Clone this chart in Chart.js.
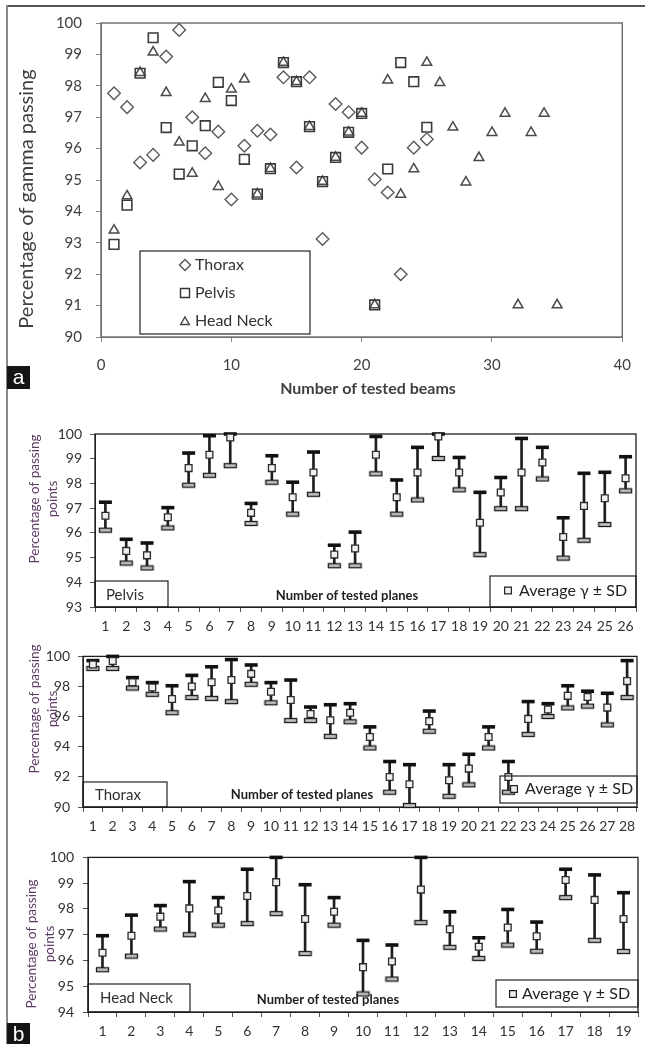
<!DOCTYPE html>
<html><head><meta charset="utf-8">
<script src="https://cdn.jsdelivr.net/npm/chart.js@4.4.1/dist/chart.umd.min.js"></script>
<style>
html,body{margin:0;padding:0;background:#fff;}
#page{position:relative;width:645px;height:1044px;overflow:hidden;background:#fff;}
.wrap{position:absolute;left:0;width:645px;}
.frameTop{position:absolute;left:7px;top:5px;width:638px;height:2px;background:#555;}
.frameLeft{position:absolute;left:6px;top:5px;width:2px;height:1039px;background:#888;}
.tag{position:absolute;background:#151515;color:#fff;font:21px 'Liberation Sans',Arial,sans-serif;line-height:21px;text-align:center;}
</style></head>
<body><div id="page">
<div class="frameTop"></div><div class="frameLeft"></div>
<div class="wrap" style="top:0;height:400px"><canvas id="cA"></canvas></div>
<div class="wrap" style="top:400px;height:240px"><canvas id="cP"></canvas></div>
<div class="wrap" style="top:640px;height:200px"><canvas id="cT"></canvas></div>
<div class="wrap" style="top:840px;height:204px"><canvas id="cH"></canvas></div>
<div class="tag" style="left:7px;top:366px;width:23px;height:23px;">a</div>
<div class="tag" style="left:7px;top:1023px;width:23px;height:21px;">b</div>
</div>
<script>
// ---------- Panel a: gamma passing per tested beam ----------
const thoraxGamma = [97.76, 97.32, 95.56, 95.80, 98.93, 99.78, 97.00, 95.85, 96.54, 94.38, 96.09, 96.57, 96.45, 98.27, 95.40, 98.27, 93.12, 97.42, 97.16, 96.03, 95.02, 94.60, 92.00, 96.03, 96.30];
const pelvisGamma = [92.95, 94.20, 98.40, 99.53, 96.67, 95.19, 96.09, 96.73, 98.11, 97.53, 95.66, 94.55, 95.36, 98.74, 98.13, 96.70, 94.95, 95.72, 96.52, 97.12, 91.02, 95.35, 98.74, 98.13, 96.68];
const headNeckGamma = [93.40, 94.49, 98.42, 99.07, 97.78, 96.20, 95.21, 97.59, 94.79, 97.89, 98.21, 94.55, 95.36, 98.74, 98.13, 96.70, 94.95, 95.72, 96.52, 97.12, 91.02, 98.18, 94.54, 95.35, 98.74, 98.10, 96.68, 94.93, 95.71, 96.51, 97.12, 91.02, 96.51, 97.12, 91.02];
const beamTicks = [0, 10, 20, 30, 40];
const gammaTicks = [90, 91, 92, 93, 94, 95, 96, 97, 98, 99, 100];

// ---------- Panel b: average gamma ± SD per tested plane ----------
const pelvisPlanes = ['1','2','3','4','5','6','7','8','9','10','11','12','13','14','15','16','17','18','19','20','21','22','23','24','25','26'];
const pelvisMean  = [96.69, 95.27, 95.09, 96.63, 98.62, 99.16, 99.86, 96.81, 98.62, 97.44, 98.44, 95.12, 95.37, 99.16, 97.44, 98.44, 99.90, 98.44, 96.41, 97.63, 98.44, 98.85, 95.83, 97.09, 97.40, 98.21];
const pelvisUpper = [97.24, 95.74, 95.59, 97.02, 99.23, 99.93, 100.0, 97.19, 99.12, 98.05, 99.27, 95.50, 96.03, 99.90, 98.14, 99.46, 100.0, 99.05, 97.64, 98.24, 99.82, 99.46, 96.61, 98.41, 98.45, 99.08];
const pelvisLower = [96.11, 94.78, 94.58, 96.20, 97.93, 98.33, 98.72, 96.38, 98.05, 96.76, 97.56, 94.67, 94.67, 98.39, 96.76, 97.33, 99.01, 97.74, 95.12, 96.98, 96.98, 98.18, 94.98, 95.70, 96.34, 97.70];

const thoraxPlanes = ['1','2','3','4','5','6','7','8','9','10','11','12','13','14','15','16','17','18','19','20','21','22','23','24','25','26','27','28'];
const thoraxMean  = [99.47, 99.69, 98.28, 97.94, 97.17, 98.00, 98.28, 98.43, 98.84, 97.65, 97.11, 96.18, 95.76, 96.26, 94.65, 91.99, 91.51, 95.70, 91.78, 92.55, 94.65, 91.99, 95.85, 96.48, 97.38, 97.31, 96.60, 98.36];
const thoraxUpper = [99.72, 100.0, 98.59, 98.26, 98.05, 98.74, 99.31, 99.79, 99.43, 98.26, 98.43, 96.64, 96.79, 96.86, 95.32, 93.02, 92.81, 96.37, 92.81, 93.50, 95.32, 93.02, 97.00, 96.86, 98.05, 97.69, 97.55, 99.72];
const thoraxLower = [99.20, 99.20, 97.90, 97.48, 96.26, 97.27, 97.21, 97.00, 98.15, 96.92, 95.74, 95.74, 94.69, 95.66, 93.92, 90.98, 90.10, 95.03, 90.71, 91.47, 93.92, 90.98, 94.82, 96.01, 96.58, 96.70, 95.45, 97.27];

const headNeckPlanes = ['1','2','3','4','5','6','7','8','9','10','11','12','13','14','15','16','17','18','19'];
const headNeckMean  = [96.30, 96.96, 97.70, 98.02, 97.94, 98.50, 99.04, 97.61, 97.89, 95.74, 95.96, 98.75, 97.21, 96.53, 97.28, 96.94, 99.12, 98.35, 97.61];
const headNeckUpper = [96.96, 97.76, 98.13, 99.06, 98.44, 99.54, 100.0, 98.94, 98.44, 96.78, 96.60, 100.0, 97.89, 96.88, 97.98, 97.49, 99.54, 99.32, 98.63];
const headNeckLower = [95.64, 96.17, 97.22, 97.00, 97.37, 97.43, 97.82, 96.27, 97.37, 94.70, 95.28, 97.47, 96.51, 96.08, 96.60, 96.36, 98.44, 96.78, 96.35];

Chart.defaults.font.family = 'Lato, "Open Sans", sans-serif';
Chart.defaults.animation = false;

function drawMark(ctx, m, dy) {
  ctx.save();
  ctx.lineWidth = m.lw || 1.4;
  ctx.strokeStyle = m.color || '#444';
  ctx.fillStyle = m.fill || 'rgba(0,0,0,0)';
  const x = m.x, y = m.y - dy, s = m.s;
  ctx.beginPath();
  if (m.shape === 'diamond') { ctx.moveTo(x, y - s); ctx.lineTo(x + s, y); ctx.lineTo(x, y + s); ctx.lineTo(x - s, y); ctx.closePath(); }
  else if (m.shape === 'square') { ctx.rect(x - s, y - s, 2 * s, 2 * s); }
  else if (m.shape === 'triangle') { ctx.moveTo(x, y - s); ctx.lineTo(x + s * 0.866, y + s / 2); ctx.lineTo(x - s * 0.866, y + s / 2); ctx.closePath(); }
  ctx.fill(); ctx.stroke();
  ctx.restore();
}

const decorPlugin = {
  id: 'decor',
  beforeDatasetsDraw(chart, args, o) {
    const {ctx, chartArea: a} = chart;
    ctx.save();
    ctx.strokeStyle = o.frameColor; ctx.lineWidth = o.frameWidth;
    ctx.strokeRect(a.left, a.top, a.right - a.left, a.bottom - a.top);
    ctx.restore();
  },
  afterDatasetsDraw(chart, args, o) {
    const ctx = chart.ctx, dy = o.top;
    ctx.save();
    (o.boxes || []).forEach(b => {
      ctx.strokeStyle = b.color || '#222'; ctx.lineWidth = b.w || 1.2;
      ctx.strokeRect(b.x1, b.y1 - dy, b.x2 - b.x1, b.y2 - b.y1);
    });
    (o.marks || []).forEach(m => drawMark(ctx, m, dy));
    (o.texts || []).forEach(t => {
      ctx.save();
      ctx.font = t.font; ctx.fillStyle = t.color || '#333';
      ctx.textAlign = t.align || 'center'; ctx.textBaseline = 'middle';
      ctx.translate(t.x, t.y - dy);
      if (t.rot) ctx.rotate(t.rot);
      ctx.fillText(t.t, 0, 0);
      ctx.restore();
    });
    ctx.restore();
  }
};

const toPoints = arr => arr.map((v, i) => ({x: i + 1, y: v}));

// ---------- Panel a ----------
new Chart(document.getElementById('cA'), {
  type: 'scatter',
  data: {
    datasets: [
      {label: 'Thorax', data: toPoints(thoraxGamma), pointStyle: 'rectRot', pointRadius: 6.3, borderColor: '#5a5a5a', backgroundColor: 'rgba(0,0,0,0)', borderWidth: 1.4, clip: false},
      {label: 'Pelvis', data: toPoints(pelvisGamma), pointStyle: 'rect', pointRadius: 6.8, borderColor: '#3a3a3a', backgroundColor: 'rgba(0,0,0,0)', borderWidth: 1.6, clip: false},
      {label: 'Head Neck', data: toPoints(headNeckGamma), pointStyle: 'triangle', pointRadius: 5.6, borderColor: '#4a4a4a', backgroundColor: 'rgba(0,0,0,0)', borderWidth: 1.5, clip: false}
    ]
  },
  options: {
    responsive: true, maintainAspectRatio: false,
    layout: {autoPadding: false, padding: {top: 23, right: 11, left: 0, bottom: 0}},
    plugins: {
      legend: {display: false}, tooltip: {enabled: false},
      decor: {
        top: 0, frameColor: '#606060', frameWidth: 1.3,
        boxes: [{x1: 140, y1: 251, x2: 310, y2: 334, color: '#333', w: 1.3}],
        marks: [
          {shape: 'diamond', x: 185, y: 265, s: 5.5, color: '#555'},
          {shape: 'square', x: 185, y: 293, s: 4.5, color: '#333'},
          {shape: 'triangle', x: 185, y: 322, s: 5, color: '#444'}
        ],
        texts: [
          {t: 'Thorax', x: 195, y: 265, font: '16px Lato', align: 'left', color: '#333'},
          {t: 'Pelvis', x: 195, y: 293, font: '16px Lato', align: 'left', color: '#333'},
          {t: 'Head Neck', x: 195, y: 321, font: '16px Lato', align: 'left', color: '#333'},
          {t: 'Percentage of gamma passing', x: 27, y: 199, rot: -Math.PI / 2, font: '20px Lato', color: '#404040'},
          {t: 'Number of tested beams', x: 368, y: 389, font: 'bold 16px Lato', color: '#404040'}
        ]
      }
    },
    scales: {
      x: {
        type: 'linear', min: beamTicks[0], max: beamTicks[beamTicks.length - 1],
        afterBuildTicks: s => { s.ticks = beamTicks.map(v => ({value: v})); },
        ticks: {font: {size: 15}, color: '#404040', padding: 14},
        grid: {drawOnChartArea: false, tickLength: 5, color: '#888'},
        border: {color: '#888', width: 1},
        afterFit: s => { s.height = 63; }
      },
      y: {
        min: gammaTicks[0], max: gammaTicks[gammaTicks.length - 1],
        afterBuildTicks: s => { s.ticks = gammaTicks.map(v => ({value: v})); },
        ticks: {font: {size: 15}, color: '#404040', padding: 14},
        grid: {drawOnChartArea: false, tickLength: 5, color: '#888'},
        border: {color: '#888', width: 1},
        afterFit: s => { s.width = 101; }
      }
    }
  },
  plugins: [decorPlugin]
});

// ---------- Panel b helper ----------
function lowerCapImage() {
  const c = document.createElement('canvas');
  c.width = 15; c.height = 7;
  const g = c.getContext('2d');
  g.fillStyle = '#c4c4c4'; g.fillRect(1.5, 1.5, 12, 4);
  g.strokeStyle = '#1a1a1a'; g.lineWidth = 1.3; g.strokeRect(1.5, 1.5, 12, 4);
  return c;
}
const capImg = lowerCapImage();

function errorPanel(id, labels, mean, upper, lower, yTicks, geom, deco) {
  new Chart(document.getElementById(id), {
    type: 'bar',
    data: {
      labels: labels,
      datasets: [
        {type: 'bar', data: lower.map((l, i) => [l, upper[i]]), backgroundColor: '#1e1e1e', borderWidth: 0, barThickness: 2, order: 3, clip: false},
        {type: 'line', data: lower, showLine: false, pointStyle: capImg, pointRadius: 6, order: 2, clip: false},
        {type: 'line', data: upper, showLine: false, pointStyle: 'line', pointRadius: 6.5, borderColor: '#111', borderWidth: 3.6, order: 1, clip: false},
        {type: 'line', data: mean, showLine: false, pointStyle: 'rect', pointRadius: 4.8, borderColor: '#2a2a2a', backgroundColor: '#f0f0f0', borderWidth: 1.3, order: 0, clip: false}
      ]
    },
    options: {
      responsive: true, maintainAspectRatio: false,
      layout: {autoPadding: false, padding: {top: geom.top, right: geom.right, left: 0, bottom: 0}},
      plugins: {legend: {display: false}, tooltip: {enabled: false}, decor: deco},
      scales: {
        x: {
          type: 'category', offset: true,
          ticks: {font: {size: 14}, color: '#333', padding: 6, autoSkip: false, maxRotation: 0},
          grid: {drawOnChartArea: false, offset: true, tickLength: 5, color: '#555'},
          border: {color: '#222', width: 1},
          afterFit: s => { s.height = geom.xh; }
        },
        y: {
          min: yTicks[0], max: yTicks[yTicks.length - 1],
          afterBuildTicks: s => { s.ticks = yTicks.map(v => ({value: v})); },
          ticks: {font: {size: 14}, color: '#333', padding: geom.ypad},
          grid: {drawOnChartArea: false, tickLength: 5, color: '#555'},
          border: {color: '#222', width: 1},
          afterFit: s => { s.width = geom.yw; }
        }
      }
    },
    plugins: [decorPlugin]
  });
}

const yLabelColor = '#5e3b66';
function panelDeco(top, name, nameBox, nameX, nameY, avgBox, avgMarkX, avgTextX, avgY, planesX, planesY, lblX1, lblX2, lblY) {
  return {
    top: top, frameColor: '#1e1e1e', frameWidth: 1.3,
    boxes: [nameBox, avgBox],
    marks: [{shape: 'square', x: avgMarkX, y: avgY, s: 3.4, color: '#222', fill: '#eee', lw: 1.2}],
    texts: [
      {t: name, x: nameX, y: nameY, font: '15px Lato', align: 'left', color: '#2e2e2e'},
      {t: 'Average γ ± SD', x: avgTextX, y: avgY, font: '16px Lato', align: 'left', color: '#222'},
      {t: 'Number of tested planes', x: planesX, y: planesY, font: 'bold 13px Lato', color: '#1e1e1e'},
      {t: 'Percentage of passing', x: lblX1, y: lblY, rot: -Math.PI / 2, font: '13.5px Lato', color: yLabelColor},
      {t: 'points', x: lblX2, y: lblY, rot: -Math.PI / 2, font: '13.5px Lato', color: yLabelColor}
    ]
  };
}

errorPanel('cP', pelvisPlanes, pelvisMean, pelvisUpper, pelvisLower, [93, 94, 95, 96, 97, 98, 99, 100],
  {top: 34, right: 9, xh: 33, yw: 95, ypad: 8},
  panelDeco(400, 'Pelvis', {x1: 95, y1: 581, x2: 168, y2: 607}, 106, 595.5,
    {x1: 490, y1: 576, x2: 636, y2: 607}, 508, 519, 590.5, 347, 596, 35, 53, 499));

errorPanel('cT', thoraxPlanes, thoraxMean, thoraxUpper, thoraxLower, [90, 92, 94, 96, 98, 100],
  {top: 8, right: 8, xh: 33, yw: 83, ypad: 8},
  panelDeco(640, 'Thorax', {x1: 83, y1: 782, x2: 167, y2: 807}, 95, 795.5,
    {x1: 500, y1: 776, x2: 637, y2: 803}, 514, 525, 789, 302, 795, 35, 53, 709));

errorPanel('cH', headNeckPlanes, headNeckMean, headNeckUpper, headNeckLower, [94, 95, 96, 97, 98, 99, 100],
  {top: 8, right: 7, xh: 32, yw: 88, ypad: 9},
  panelDeco(840, 'Head Neck', {x1: 88, y1: 984, x2: 190, y2: 1012}, 100, 998,
    {x1: 496, y1: 980, x2: 638, y2: 1007}, 513, 522, 994, 328, 1000, 32, 50, 944));
</script>
</body></html>
